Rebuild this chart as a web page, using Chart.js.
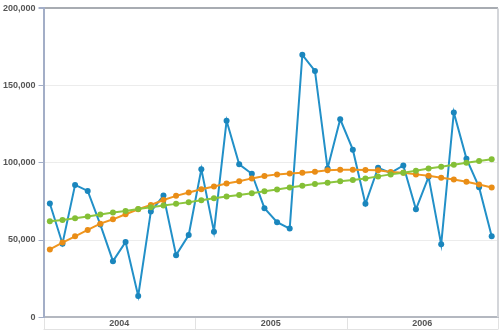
<!DOCTYPE html>
<html>
<head>
<meta charset="utf-8">
<style>
  html, body { margin: 0; padding: 0; background: #fff; }
  #wrap { width: 500px; height: 332px; }
</style>
<script src="https://cdn.jsdelivr.net/npm/chart.js@4/dist/chart.umd.min.js"></script>
</head>
<body>
<div id="wrap"><canvas id="chart"></canvas></div>
<script>
const years = ["2004", "2005", "2006"];
const monthNames = ["Jan", "Feb", "Mar", "Apr", "May", "Jun", "Jul", "Aug", "Sep", "Oct", "Nov", "Dec"];
const months = [];
years.forEach(y => monthNames.forEach(m => months.push(m + " " + y)));

const actual = [
  73600, 47600, 85700, 81800, 60000, 36300, 48700, 13800, 68400, 78800, 40200, 53200,
  95900, 55400, 127200, 99000, 92900, 70600, 61500, 57400, 169900, 159500, 96300, 128200,
  108500, 73400, 96800, 93500, 98300, 69900, 90900, 47200, 132600, 102700, 84200, 52400
];
const curveTrend = [
  43900, 48300, 52400, 56500, 60600, 63400, 66700, 69900, 72700, 75900, 78600, 80800,
  82900, 84700, 86600, 88100, 89900, 91400, 92500, 93100, 93500, 94200, 95100, 95500,
  95500, 95400, 95100, 94000, 93500, 92500, 91600, 90300, 89200, 87700, 86000, 84000
];
const lineTrend = [
  62100, 63000, 64100, 65200, 66500, 67800, 68800, 70100, 71200, 72400, 73400, 74500,
  75800, 77100, 78200, 79200, 80300, 81600, 82700, 84000, 85100, 86200, 87100, 88000,
  88800, 89900, 91200, 92500, 93500, 94800, 96300, 97500, 98700, 100000, 101100, 102300
];
const yTicks = [0, 50000, 100000, 150000, 200000];

// right border, year separators and the band's bottom line
const frame = {
  id: "frame",
  afterDraw(chart) {
    const ctx = chart.ctx;
    const area = chart.chartArea;
    const xs = chart.scales.x;
    const band = chart.scales.xYear;
    const bottom = Math.round(band.bottom) - 0.5;
    ctx.save();
    ctx.strokeStyle = "#d4d6da";
    ctx.lineWidth = 2;
    ctx.beginPath();
    ctx.moveTo(area.right, area.top);
    ctx.lineTo(area.right, area.bottom);
    ctx.stroke();

    ctx.strokeStyle = "#e2e2e2";
    ctx.lineWidth = 1;
    ctx.beginPath();
    const edges = [area.left];
    for (let i = 1; i < years.length; i++) {
      const k = i * 12;
      edges.push((xs.getPixelForValue(k - 1) + xs.getPixelForValue(k)) / 2);
    }
    edges.push(area.right);
    edges.forEach(x => {
      const px = Math.round(x) + 0.5;
      ctx.moveTo(px, area.bottom + 1);
      ctx.lineTo(px, bottom);
    });
    ctx.moveTo(area.left, bottom);
    ctx.lineTo(area.right, bottom);
    ctx.stroke();
    ctx.restore();
  }
};

const tickFont = { family: "Arial, 'Liberation Sans', sans-serif", size: 9, weight: "bold" };

new Chart(document.getElementById("chart"), {
  type: "line",
  data: {
    labels: months,
    datasets: [
      {
        label: "Actual",
        data: actual,
        borderColor: "#2290c8",
        backgroundColor: "#1a86bd",
        borderWidth: 2,
        pointRadius: 3,
        pointBorderWidth: 0,
        tension: 0,
        order: 3
      },
      {
        label: "Trend (curve)",
        data: curveTrend,
        borderColor: "#f0961e",
        backgroundColor: "#e98d16",
        borderWidth: 2,
        pointRadius: 3,
        pointBorderWidth: 0,
        tension: 0,
        order: 2
      },
      {
        label: "Trend (line)",
        data: lineTrend,
        borderColor: "#8cc63e",
        backgroundColor: "#84bf36",
        borderWidth: 2,
        pointRadius: 3,
        pointBorderWidth: 0,
        tension: 0,
        order: 1
      }
    ]
  },
  options: {
    responsive: true,
    maintainAspectRatio: false,
    animation: false,
    layout: { autoPadding: false, padding: { top: 8, right: 2, left: 0, bottom: 2 } },
    plugins: {
      legend: { display: false },
      tooltip: { enabled: false }
    },
    scales: {
      x: {
        type: "category",
        position: "bottom",
        offset: true,
        ticks: { display: false },
        grid: { display: false, drawTicks: false },
        border: { display: true, color: "#b4b8c0", width: 2 }
      },
      xYear: {
        type: "category",
        labels: years,
        position: "bottom",
        offset: true,
        grid: { display: false, drawTicks: false },
        border: { display: false },
        ticks: { font: tickFont, color: "#555", padding: 1 }
      },
      y: {
        min: 0,
        max: 200000,
        afterBuildTicks: axis => { axis.ticks = yTicks.map(v => ({ value: v })); },
        ticks: {
          font: tickFont,
          color: "#555",
          padding: 3,
          callback: v => v.toLocaleString("en-US")
        },
        grid: {
          tickLength: 5,
          color: ctx => ctx.tick && ctx.tick.value === 200000 ? "#a8acb2" : "#ececec",
          lineWidth: ctx => ctx.tick && ctx.tick.value === 200000 ? 2 : 1,
          tickColor: "#a3aec7"
        },
        border: { color: "#a3aec7", width: 2 }
      }
    }
  },
  plugins: [frame]
});
</script>
</body>
</html>
